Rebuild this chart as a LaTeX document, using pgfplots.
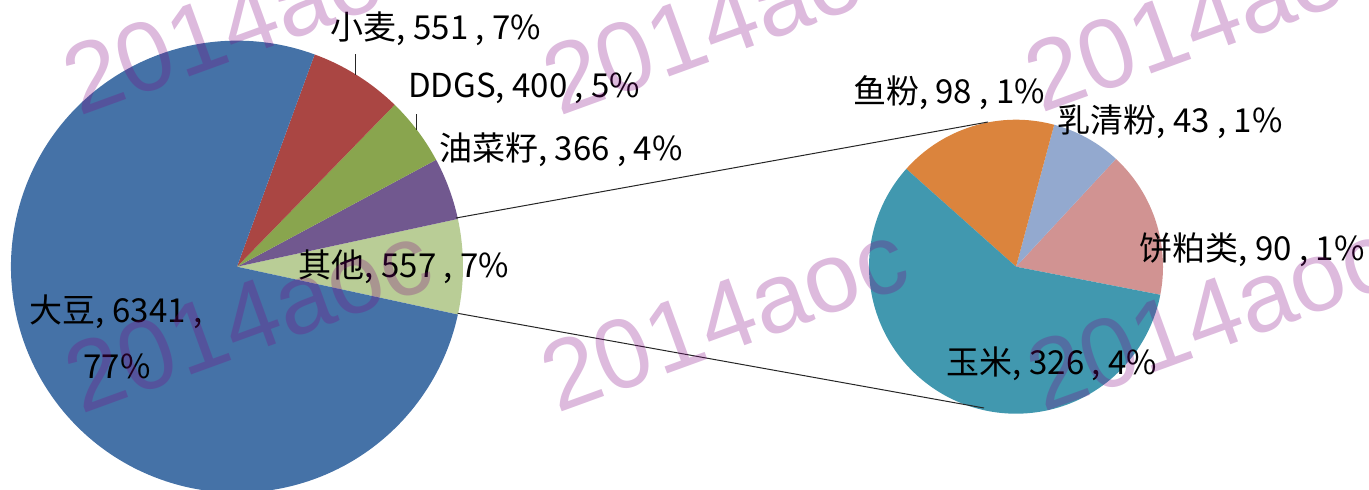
\documentclass[border=0pt]{standalone}
\usepackage{pgfplots}
\pgfplotsset{compat=1.18}
\usepackage{fontspec}
\setmainfont{Noto Sans CJK SC}
\newfontfamily\wm{Liberation Sans}
\definecolor{cSoy}{HTML}{4572A7}
\definecolor{cWheat}{HTML}{AA4643}
\definecolor{cDDGS}{HTML}{89A54E}
\definecolor{cRape}{HTML}{71588F}
\definecolor{cOther}{HTML}{B9CD96}
\definecolor{cCorn}{HTML}{4198AF}
\definecolor{cFish}{HTML}{DB843D}
\definecolor{cWhey}{HTML}{93A9CF}
\definecolor{cMeal}{HTML}{D19392}
\definecolor{wmcol}{RGB}{128,0,128}
\tikzset{wmk/.style={rotate=20,inner sep=0,text=wmcol,text opacity=0.27,font=\wm\fontsize{49.5pt}{55pt}\selectfont}}
\tikzset{lab/.style={inner sep=0,font=\fontsize{16.5pt}{19pt}\selectfont}}
% data: first pie
\pgfmathsetmacro\vSoy{6341}
\pgfmathsetmacro\vWheat{551}
\pgfmathsetmacro\vDDGS{400}
\pgfmathsetmacro\vRape{366}
% second pie (其他)
\pgfmathsetmacro\vCorn{326}
\pgfmathsetmacro\vFish{98}
\pgfmathsetmacro\vWhey{43}
\pgfmathsetmacro\vMeal{90}
\pgfmathsetmacro\vOther{\vCorn+\vFish+\vWhey+\vMeal}
\pgfmathsetmacro\tot{\vSoy+\vWheat+\vDDGS+\vRape+\vOther}
\pgfmathsetmacro\aA{-\vOther/\tot*180}
\pgfmathsetmacro\aB{\aA+\vOther/\tot*360}
\pgfmathsetmacro\aC{\aB+\vRape/\tot*360}
\pgfmathsetmacro\aD{\aC+\vDDGS/\tot*360}
\pgfmathsetmacro\aE{\aD+\vWheat/\tot*360}
\pgfmathsetmacro\aF{\aE+\vSoy/\tot*360}
\pgfmathsetmacro\bA{-11}
\pgfmathsetmacro\bB{\bA+\vMeal/\vOther*360}
\pgfmathsetmacro\bC{\bB+\vWhey/\vOther*360}
\pgfmathsetmacro\bD{\bC+\vFish/\vOther*360}
\pgfmathsetmacro\bE{\bD+\vCorn/\vOther*360}
\begin{document}
\begin{tikzpicture}
\begin{axis}[at={(0,0)},anchor=south west,
  width=684.5pt,height=244.5pt,scale only axis,
  xmin=0,xmax=1369,ymin=0,ymax=489,hide axis,
  clip=true,clip bounding box=upper bound]
\path (axis cs:0,0) rectangle (axis cs:1369,489);
\fill[cOther] (axis cs:237,222.3) -- ++(\aA:113pt) arc[start angle=\aA,end angle=\aB,radius=113pt] -- cycle;
\fill[cRape] (axis cs:237,222.3) -- ++(\aB:113pt) arc[start angle=\aB,end angle=\aC,radius=113pt] -- cycle;
\fill[cDDGS] (axis cs:237,222.3) -- ++(\aC:113pt) arc[start angle=\aC,end angle=\aD,radius=113pt] -- cycle;
\fill[cWheat] (axis cs:237,222.3) -- ++(\aD:113pt) arc[start angle=\aD,end angle=\aE,radius=113pt] -- cycle;
\fill[cSoy] (axis cs:237,222.3) -- ++(\aE:113pt) arc[start angle=\aE,end angle=\aF,radius=113pt] -- cycle;
\fill[cMeal] (axis cs:1016,222.3) -- ++(\bA:73.5pt) arc[start angle=\bA,end angle=\bB,radius=73.5pt] -- cycle;
\fill[cWhey] (axis cs:1016,222.3) -- ++(\bB:73.5pt) arc[start angle=\bB,end angle=\bC,radius=73.5pt] -- cycle;
\fill[cFish] (axis cs:1016,222.3) -- ++(\bC:73.5pt) arc[start angle=\bC,end angle=\bD,radius=73.5pt] -- cycle;
\fill[cCorn] (axis cs:1016,222.3) -- ++(\bD:73.5pt) arc[start angle=\bD,end angle=\bE,radius=73.5pt] -- cycle;
% connectors
\draw[black!85,line width=0.5pt] (axis cs:456,271) -- (axis cs:988,367);
\draw[black!85,line width=0.5pt] (axis cs:457.6,175.7) -- (axis cs:984,81);
\draw[black!85,line width=0.5pt] (axis cs:355,435) -- (axis cs:355,414);
\draw[black!85,line width=0.5pt] (axis cs:416.7,375) -- (axis cs:416.7,359);
% labels
\node[lab] at (axis cs:436,460) {小麦, 551 , 7\%};
\node[lab] at (axis cs:524,401) {DDGS, 400 , 5\%};
\node[lab] at (axis cs:561,339) {油菜籽, 366 , 4\%};
\node[lab] at (axis cs:404,222) {其他, 557 , 7\%};
\node[lab] at (axis cs:116,177) {大豆, 6341 ,};
\node[lab] at (axis cs:117,123) {77\%};
\node[lab] at (axis cs:949,396) {鱼粉, 98 , 1\%};
\node[lab] at (axis cs:1170,367) {乳清粉, 43 , 1\%};
\node[lab] at (axis cs:1252,239) {饼粕类, 90 , 1\%};
\node[lab] at (axis cs:1052,125) {玉米, 326 , 4\%};
% watermarks
\node[wmk] at (axis cs:246,469) {2014aoc};
\node[wmk] at (axis cs:726,469) {2014aoc};
\node[wmk] at (axis cs:1208,472) {2014aoc};
\node[wmk] at (axis cs:248,171) {2014aoc};
\node[wmk] at (axis cs:724,172) {2014aoc};
\node[wmk] at (axis cs:1210,173) {2014aoc};
\end{axis}
\end{tikzpicture}
\end{document}
